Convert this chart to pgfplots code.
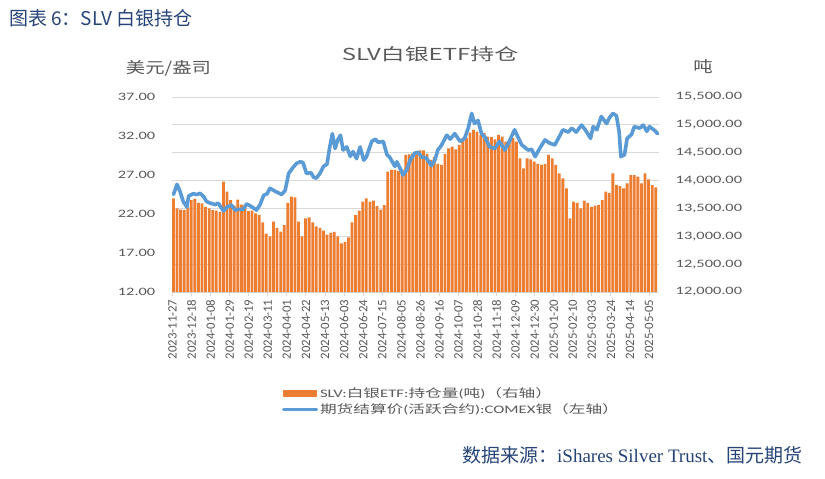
\documentclass[border=0pt]{standalone}
\usepackage{fontspec}
\usepackage{pgfplots}
\usepackage{pgfplotstable}
\pgfplotsset{compat=1.18}
\setmainfont{Carlito}
\newfontfamily\cf{Carlito}[FakeStretch=1.45]
\newfontfamily\cjk{Noto Sans CJK SC}[FakeStretch=1.45]
\newfontfamily\cjkb{Noto Sans CJK SC}[FakeStretch=1.25]
\newfontfamily\cjkn{Noto Sans CJK SC}
\newfontfamily\tms{Liberation Serif}
\definecolor{barc}{HTML}{ED7D31}
\definecolor{linec}{HTML}{5B9BD5}
\definecolor{txt}{HTML}{595959}
\definecolor{gridc}{HTML}{D9D9D9}
\definecolor{navy}{HTML}{264478}

% x = days since 2023-11-27
\pgfplotstableread{
d T
1.1 13682
5.0 13500
9.0 13480
12.9 13470
16.8 13520
20.8 13650
24.7 13670
28.6 13600
32.6 13590
36.5 13530
40.5 13500
44.4 13470
48.3 13460
52.3 13440
56.2 13980
60.1 13800
64.1 13650
68.0 13550
71.9 13660
75.9 13570
79.8 13520
83.7 13450
87.7 13460
91.6 13410
95.6 13380
99.5 13250
103.4 13050
107.4 13000
111.3 13262
115.2 13150
119.2 13082
123.1 13200
127.0 13600
131.0 13710
134.9 13700
138.8 13262
142.8 13000
146.7 13320
150.6 13340
154.6 13250
158.5 13180
162.5 13150
166.4 13100
170.3 13030
174.3 13060
178.2 13080
182.1 13000
186.1 12874
190.0 12900
193.9 12980
197.9 13250
201.8 13380
205.8 13460
209.7 13620
213.6 13680
217.6 13620
221.5 13640
225.4 13540
229.4 13480
233.3 13560
237.2 14160
241.2 14190
245.1 14190
249.0 14170
253.0 14200
256.9 14460
260.9 14470
264.8 14490
268.7 14518
272.7 14540
276.6 14540
280.5 14480
284.5 14370
288.4 14420
292.3 14300
296.3 14280
300.2 14480
304.1 14580
308.1 14610
312.0 14560
316.0 14640
319.9 14730
323.8 14760
327.8 14860
331.7 14910
335.6 14880
339.6 14820
343.5 14850
347.4 14790
351.4 14780
355.3 14740
359.2 14820
363.2 14790
367.1 14700
371.1 14700
375.0 14760
378.9 14700
382.9 14400
386.8 14220
390.7 14400
394.7 14380
398.6 14340
402.5 14300
406.5 14280
410.4 14300
414.3 14460
418.3 14400
422.2 14280
426.2 14130
430.1 14040
434.0 13860
438.0 13322
441.9 13620
445.8 13600
449.8 13500
453.7 13640
457.6 13600
461.6 13530
465.5 13550
469.4 13560
473.4 13650
477.3 13800
481.2 13780
485.2 14130
489.1 13920
493.1 13900
497.0 13860
500.9 13950
504.9 14100
508.8 14100
512.7 14070
516.7 13950
520.6 14130
524.5 14020
528.5 13920
532.4 13880
}\holdings

\pgfplotstableread{
d P
1.1 24.5
5.0 25.8
8.0 25.0
11.9 23.6
15.9 22.9
17.8 24.3
22.7 24.6
26.7 24.5
30.6 24.65
34.6 24.2
37.5 23.6
41.4 23.4
47.3 23.2
50.3 23.4
56.2 22.4
60.1 22.9
65.0 23.15
69.0 22.5
71.9 22.6
77.8 22.6
81.8 23.3
87.7 22.9
92.6 22.5
96.5 23.2
100.5 24.4
104.4 24.6
107.4 25.3
113.3 24.9
120.2 24.5
124.1 25.0
128.0 27.2
133.0 28.0
136.9 28.5
140.8 28.7
143.8 28.6
147.7 27.2
152.6 27.3
155.6 26.7
158.5 26.6
162.5 27.2
166.4 28.1
170.3 28.4
173.3 30.6
176.2 32.3
179.2 30.4
182.1 31.5
185.1 32.1
188.0 30.2
192.0 30.6
195.9 29.4
198.9 30.0
202.8 29.1
206.7 30.6
210.7 28.9
213.6 29.3
219.5 31.3
223.5 31.6
226.4 31.2
232.3 31.3
236.3 29.6
239.2 29.3
245.1 28.1
247.1 28.7
251.0 27.8
254.0 27.0
257.9 27.6
261.8 28.9
266.8 29.8
270.7 29.9
274.6 29.3
279.5 29.2
285.4 28.2
289.4 29.0
292.3 30.2
296.3 30.8
302.2 32.1
306.1 31.6
311.0 32.3
316.9 31.3
321.9 31.7
325.8 33.0
329.7 34.9
332.7 33.6
336.6 34.0
340.5 32.3
344.5 31.8
349.4 30.6
355.3 30.4
360.2 31.3
366.1 30.2
371.0 31.3
376.9 32.8
380.9 31.8
384.8 30.85
391.7 30.2
395.6 30.3
399.6 29.35
404.5 30.4
410.4 31.5
415.3 31.1
421.2 30.85
426.1 31.9
430.1 32.8
436.0 32.5
439.9 33.0
444.8 32.5
450.7 33.4
454.7 32.8
460.6 31.7
463.5 33.2
467.5 32.8
472.4 34.5
478.3 33.6
481.2 34.3
485.2 34.9
489.1 34.6
492.1 32.55
494.0 29.35
498.0 29.6
500.9 31.7
505.8 32.2
508.8 33.2
514.7 33.0
518.6 33.4
522.6 32.6
525.5 33.2
531.4 32.7
534.4 32.3
}\price

\begin{document}
\begin{tikzpicture}[x=1pt,y=1pt]
\fill[white] (0,0) rectangle (825,-479);

\node[anchor=west, text=navy, font=\cjkn\fontsize{19}{21}\selectfont, inner sep=0] at (9,-18.5) {图表 6：SLV 白银持仓};
\node[anchor=center, text=txt, font=\cjk\fontsize{16.5}{18}\selectfont, inner sep=0] at (430,-54) {SLV白银ETF持仓};
\node[anchor=center, text=txt, font=\cjkb\fontsize{15.5}{17}\selectfont, inner sep=0] at (168.5,-68) {美元/盎司};
\node[anchor=center, text=txt, font=\cjkb\fontsize{15.5}{17}\selectfont, inner sep=0] at (703,-67) {吨};
\node[anchor=west, text=navy, font=\cjkn\fontsize{19}{21}\selectfont, inner sep=0] at (462,-455) {数据来源：{\tms iShares Silver Trust}、国元期货};

\begin{axis}[
  at={(172pt,-292pt)}, anchor=south west, scale only axis,
  width=487pt, height=195pt,
  xmin=-0.5, xmax=536, ymin=12000, ymax=15500,
  axis x line*=bottom, axis y line*=right,
  x axis line style={gridc, line width=0.8pt},
  y axis line style={draw=none},
  ytick={12000,12500,...,15500},
  scaled y ticks=false,
  ymajorgrids, grid style={gridc, line width=0.8pt},
  ytick style={draw=none},
  xtick={0,21,...,525},
  xticklabels={2023-11-27,2023-12-18,2024-01-08,2024-01-29,2024-02-19,2024-03-11,2024-04-01,2024-04-22,2024-05-13,2024-06-03,2024-06-24,2024-07-15,2024-08-05,2024-08-26,2024-09-16,2024-10-07,2024-10-28,2024-11-18,2024-12-09,2024-12-30,2025-01-20,2025-02-10,2025-03-03,2025-03-24,2025-04-14,2025-05-05},
  xtick align=outside, major tick length=4pt,
  xtick style={gridc, line width=0.8pt},
  xticklabel style={rotate=90, anchor=east, font=\fontsize{12.8}{13}\selectfont, text=txt},
  /pgf/number format/assume math mode=true,
  /pgf/number format/fixed,
  /pgf/number format/fixed zerofill,
  /pgf/number format/precision=2,
  /pgf/number format/1000 sep={,},
  yticklabel style={font=\cf\fontsize{11.3}{12}\selectfont, text=txt, anchor=west, xshift=13.2pt},
  clip=true,
]
\addplot[ybar, bar width=2.8pt, bar shift=0pt, fill=barc, draw=none] table[x=d, y=T] {\holdings};
\end{axis}

\begin{axis}[
  at={(172pt,-292pt)}, anchor=south west, scale only axis,
  width=487pt, height=195pt,
  xmin=-0.5, xmax=536, ymin=12, ymax=37,
  hide x axis, axis y line*=left,
  y axis line style={draw=none},
  ytick={12,17,...,37},
  ytick style={draw=none},
  /pgf/number format/assume math mode=true,
  /pgf/number format/fixed,
  /pgf/number format/fixed zerofill,
  /pgf/number format/precision=2,
  yticklabel style={font=\cf\fontsize{11.3}{12}\selectfont, text=txt, anchor=east, xshift=-13.2pt},
  legend style={at={(axis description cs:0.2259,-0.48)}, anchor=north west, draw=none, fill=none,
    inner sep=0pt, outer sep=0pt, row sep=1pt, font=\fontsize{11.5}{12}\selectfont, text=txt,
    /tikz/every even column/.append style={column sep=0pt}},
  legend cell align=left,
]
\addlegendimage{legend image code/.code={\fill[barc] (0pt,-3.4pt) rectangle (33pt,3.4pt);}}
\addlegendentry{{\cf SLV:}{\cjk 白银}{\cf ETF:}{\cjk 持仓量}{\cf (}{\cjk 吨}{\cf )}{\cjk （右轴）}}
\addplot[linec, line width=3.6pt, line join=round, line cap=round,
  legend image code/.code={\draw[linec, line width=3pt] (0pt,0pt) -- (33pt,0pt);}] table[x=d, y=P] {\price};
\addlegendentry{{\cjk 期货结算价}{\cf (}{\cjk 活跃合约}{\cf ):COMEX}{\cjk 银（左轴）}}
\end{axis}
\end{tikzpicture}
\end{document}
